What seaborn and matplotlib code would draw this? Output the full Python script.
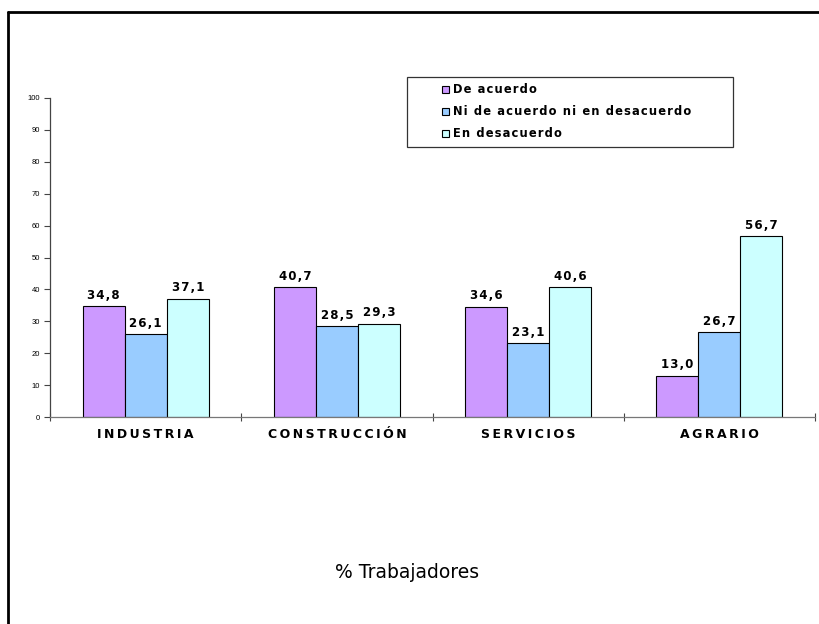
import pandas as pd
import matplotlib.pyplot as plt
from matplotlib.patches import Rectangle
import seaborn as sns

sectores = ['INDUSTRIA', 'CONSTRUCCIÓN', 'SERVICIOS', 'AGRARIO']
respuestas = ['De acuerdo', 'Ni de acuerdo ni en desacuerdo', 'En desacuerdo']
de_acuerdo = [34.8, 40.7, 34.6, 13.0]
ni_acuerdo = [26.1, 28.5, 23.1, 26.7]
desacuerdo = [37.1, 29.3, 40.6, 56.7]
colores = ['#CC99FF', '#99CCFF', '#CCFFFF']

rows = []
for resp, vals in zip(respuestas, [de_acuerdo, ni_acuerdo, desacuerdo]):
    for s, v in zip(sectores, vals):
        rows.append({'Sector': s, 'Respuesta': resp, 'Valor': v})
df = pd.DataFrame(rows)

sns.set_style('white')
plt.rcParams['font.family'] = ['DejaVu Sans']
plt.rcParams['text.color'] = 'black'


def espaciar(txt, sep='\u2009'):
    # wide letter spacing like the original
    return sep.join(txt)


fig = plt.figure(figsize=(8.19, 6.24), dpi=100)
ax = fig.add_axes([50 / 819, 1 - 417 / 624, 765 / 819, 319 / 624])

sns.barplot(data=df, x='Sector', y='Valor', hue='Respuesta', palette=colores,
            saturation=1, width=0.66, edgecolor='black', linewidth=0.8, ax=ax, legend=True)

for cont in ax.containers:
    ax.bar_label(cont, labels=[espaciar(f'{v:.1f}'.replace('.', ','), '\u200a') for v in cont.datavalues],
                 padding=3, fontsize=8.5, fontweight='bold', color='black')

ax.set_ylim(0, 100)
ax.set_xlim(-0.5, 3.5)
ax.set_yticks(range(0, 101, 10))
ax.tick_params(axis='y', left=True, labelsize=5.5, length=4, width=0.8, direction='out',
               color='#444444', pad=3, labelcolor='black')
ax.set_xticks([-0.5, 0.5, 1.5, 2.5, 3.5], minor=False)
ax.set_xticklabels([])
ax.set_xticks(range(4), minor=True)
ax.set_xticklabels([espaciar(s) for s in sectores], minor=True, fontsize=9, fontweight='bold',
                   color='black')
ax.tick_params(axis='x', which='major', bottom=True, length=6, width=0.8, direction='inout',
               color='#444444')
ax.tick_params(axis='x', which='minor', bottom=True, length=0, pad=8)
for lab in ax.get_yticklabels():
    lab.set_family('Liberation Sans')
ax.set_xlabel('')
ax.set_ylabel('')
for side in ['top', 'right']:
    ax.spines[side].set_visible(False)
ax.spines['left'].set_color('#444444')
ax.spines['bottom'].set_color('#777777')
ax.spines['left'].set_linewidth(0.9)
ax.spines['bottom'].set_linewidth(0.9)

handles, labels = ax.get_legend_handles_labels()
ax.legend(handles, [espaciar(l, '\u200a') for l in labels], loc='upper left',
          bbox_to_anchor=(439 / 819, 1 - 80 / 624),
          bbox_transform=fig.transFigure, frameon=False,
          prop={'weight': 'bold', 'size': 8.3},
          handlelength=0.6, handleheight=0.6, handletextpad=0.3, labelspacing=0.78,
          borderpad=0.3, borderaxespad=0)
for t in ax.get_legend().get_texts():
    t.set_color('black')
fig.add_artist(Rectangle((407 / 819, 1 - 147 / 624), 326 / 819, 70 / 624,
                         transform=fig.transFigure, fill=False, edgecolor='#333333',
                         linewidth=0.9))

fig.text(407 / 819, 1 - 572 / 624, '% Trabajadores', ha='center', va='center', fontsize=13.5)

# outer frame
fig.add_artist(plt.Line2D([8 / 819, 8 / 819], [0, 1 - 12 / 624], transform=fig.transFigure,
                          color='black', linewidth=2))
fig.add_artist(plt.Line2D([8 / 819, 1], [1 - 12 / 624, 1 - 12 / 624], transform=fig.transFigure,
                          color='black', linewidth=2))

fig.savefig('out.png', dpi=100)
